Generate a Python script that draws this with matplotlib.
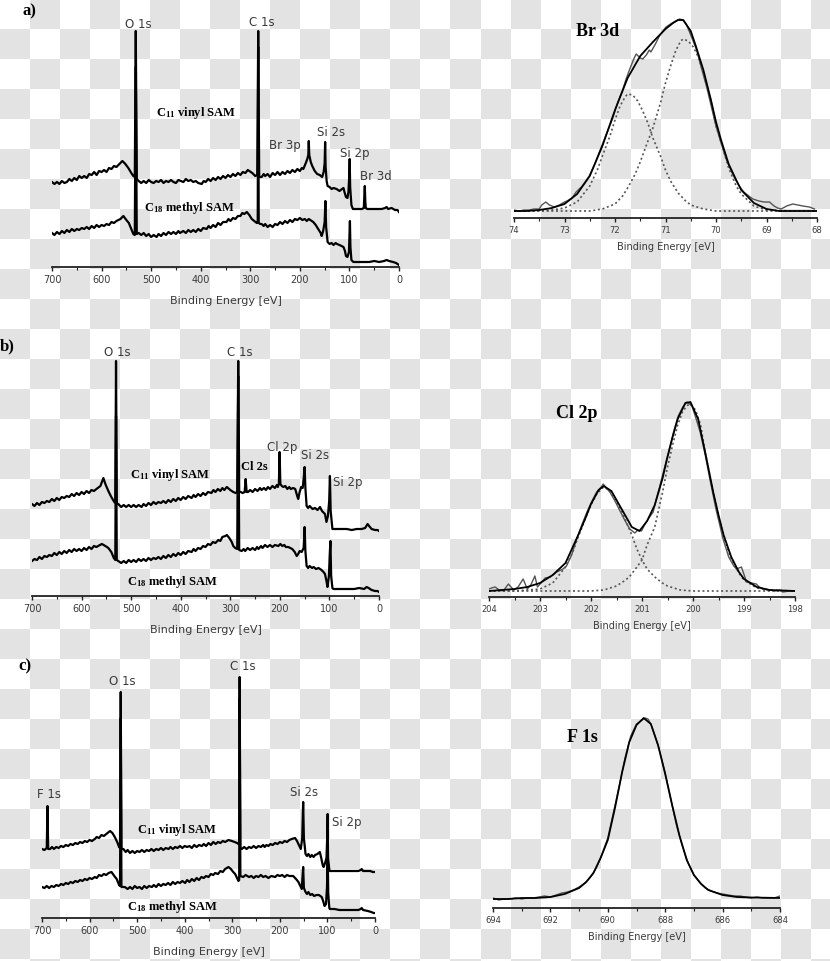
import numpy as np
import matplotlib.pyplot as plt
from matplotlib.colors import ListedColormap
from matplotlib.ticker import MultipleLocator

W, H = 830, 962

plt.rcParams['mathtext.fontset'] = 'custom'
plt.rcParams['mathtext.rm'] = 'Liberation Serif:bold'
plt.rcParams['mathtext.it'] = 'Liberation Serif:bold'
plt.rcParams['mathtext.bf'] = 'Liberation Serif:bold'

# ---- survey spectra, (binding energy eV, intensity a.u.) ----
a_vinyl = [(700, 85), (695, 83), (690, 85), (685, 83), (680, 86), (675, 84), (670, 85), (665, 88), (660, 86),
           (655, 89), (650, 87), (645, 91), (640, 89), (635, 91), (630, 89), (625, 93), (620, 92), (615, 95),
           (610, 92), (605, 96), (600, 95), (595, 97), (590, 95), (585, 99), (580, 98), (575, 101), (570, 100),
           (562, 104), (558, 106), (552, 103), (546, 99),
           (540, 94), (536, 91), (533, 90), (531, 236), (529, 88), (525, 86), (520, 84), (515, 86), (510, 84),
           (505, 87), (500, 85), (495, 84), (490, 86), (485, 85), (480, 87), (475, 84), (470, 86), (465, 85),
           (460, 87), (455, 85), (450, 84), (445, 87), (440, 86), (435, 85), (430, 88), (425, 86), (420, 87),
           (415, 85), (410, 86), (405, 84), (398, 83), (394, 86), (390, 85), (385, 88), (380, 86), (375, 89),
           (370, 87), (365, 90), (360, 88), (355, 91), (350, 89), (345, 92), (340, 90), (335, 93), (330, 91),
           (325, 94), (320, 92), (315, 95), (310, 94), (305, 97), (302, 96), (296, 94), (290, 91), (286, 92),
           (284, 236), (282, 90), (277, 90), (273, 93), (270, 91), (265, 93), (260, 90), (255, 94), (250, 92),
           (245, 95), (240, 92), (235, 95), (230, 93), (225, 96), (220, 94), (215, 97), (210, 95), (205, 98),
           (200, 96), (196, 99), (193, 98), (188, 104), (185, 108), (183, 112), (182, 126), (181, 112),
           (178, 105), (175, 101), (170, 96), (165, 93), (160, 92), (155, 90), (152, 95), (150, 104), (149, 125),
           (148, 100), (146, 86), (144, 81), (140, 80), (136, 78), (132, 79), (126, 78), (120, 76), (115, 78),
           (112, 79), (110, 75), (107, 70), (104, 69), (102, 75), (100.5, 90), (99.5, 108), (98.5, 80), (96, 62),
           (93, 58), (85, 58), (75, 58), (71, 59), (70, 70), (69, 81), (68, 66), (67, 59), (64, 58), (55, 58),
           (45, 58), (35, 58), (28, 59), (25, 60), (22, 58), (15, 59), (8, 57), (3, 57), (0, 55)]
a_methyl = [(700, 34), (695, 32), (690, 35), (685, 33), (680, 36), (675, 34), (670, 37), (665, 35), (660, 38),
            (655, 36), (650, 38), (645, 37), (640, 39), (635, 38), (630, 40), (625, 38), (620, 41), (615, 39),
            (610, 42), (605, 40), (600, 42), (595, 41), (590, 43), (585, 42), (580, 45), (575, 44), (570, 46),
            (562, 48), (556, 51), (550, 47), (545, 44),
            (540, 38), (536, 33), (533, 32), (531, 200), (529, 33), (525, 34), (520, 32), (515, 34), (510, 31),
            (505, 33), (500, 30), (495, 32), (489, 30), (485, 33), (480, 31), (475, 34), (470, 32), (465, 35),
            (460, 33), (455, 35), (450, 33), (445, 36), (442, 34), (435, 36), (430, 34), (425, 37), (420, 35),
            (415, 37), (410, 35), (405, 38), (400, 36), (395, 39), (388, 38), (384, 41), (380, 39), (375, 42),
            (370, 40), (365, 44), (360, 42), (355, 45), (348, 45), (344, 48), (340, 46), (335, 49), (330, 48),
            (325, 51), (320, 51), (316, 54), (312, 53), (307, 55), (302, 52), (297, 48), (292, 46), (287, 44),
            (285, 45), (284, 220), (283, 44), (280, 43), (277, 43), (273, 41), (270, 43), (265, 40), (260, 42),
            (255, 40), (250, 43), (245, 42), (240, 45), (235, 43), (230, 46), (225, 44), (220, 47), (215, 45),
            (210, 48), (205, 47), (200, 49), (195, 47), (190, 48), (186, 46), (182, 48), (176, 46), (173, 45),
            (168, 42), (163, 38), (158, 34), (156, 31), (153, 36), (150, 45), (148.5, 66), (147, 40), (144, 25),
            (140, 23), (136, 24), (132, 22), (128, 24), (125, 23), (120, 22), (116, 21), (112, 20), (109, 16),
            (107, 11), (104, 10), (101, 15), (100, 30), (99, 46), (98, 20), (96, 7), (92, 5), (80, 5), (70, 5),
            (60, 5), (50, 6), (40, 5), (30, 6), (25, 7), (20, 6), (12, 5), (6, 4), (3, 3), (0, 2)]

b_vinyl = [(700, 92), (695, 90), (690, 93), (685, 91), (680, 94), (675, 93), (670, 95), (665, 94), (660, 97),
           (655, 95), (650, 98), (645, 96), (640, 99), (635, 98), (630, 100), (625, 99), (620, 102), (615, 100),
           (610, 103), (605, 101), (600, 104), (595, 102), (590, 105), (585, 103), (580, 106), (575, 105),
           (570, 107), (562, 110), (556, 118), (552, 112), (546, 105), (540, 99), (534, 94), (532, 93),
           (530.5, 235), (529, 92), (526, 92), (520, 89), (515, 91), (510, 89), (505, 91), (500, 89), (495, 91),
           (490, 89), (485, 91), (479, 89), (475, 92), (470, 90), (465, 93), (460, 91), (455, 94), (450, 92),
           (445, 94), (440, 93), (435, 95), (430, 93), (425, 96), (420, 94), (415, 97), (410, 95), (405, 98),
           (400, 96), (395, 99), (390, 97), (385, 100), (378, 98), (374, 101), (370, 99), (365, 102), (360, 100),
           (355, 103), (350, 101), (345, 104), (338, 103), (334, 106), (330, 104), (325, 107), (320, 105),
           (316, 108), (312, 106), (307, 109), (300, 106), (294, 104), (289, 103), (286, 104), (284, 235),
           (282, 104), (279, 104), (275, 103), (271, 104), (269, 117), (267, 104), (264, 104), (260, 106),
           (255, 104), (250, 107), (245, 105), (240, 108), (237, 106), (232, 108), (228, 106), (224, 109),
           (220, 107), (215, 110), (210, 108), (206, 111), (204, 109), (202, 112), (200.5, 144), (199, 112),
           (196, 110), (193, 109), (189, 110), (185, 107), (181, 109), (178, 107), (173, 108), (169, 107),
           (165, 100), (163, 97), (160, 104), (157, 109), (154, 108), (151.5, 120), (150, 129), (148.5, 108),
           (146, 90), (143, 88), (140, 90), (134, 87), (129, 88), (124, 86), (119, 89), (115, 85), (111, 83),
           (109, 82), (106, 74), (103, 80), (100.5, 95), (99, 120), (97.5, 85), (94, 67), (85, 67), (75, 67),
           (65, 67), (55, 66), (45, 67), (35, 67), (28, 68), (23, 72), (20, 70), (15, 67), (8, 66), (3, 66),
           (0, 65)]
b_methyl = [(700, 35), (695, 37), (690, 36), (685, 39), (680, 37), (675, 40), (670, 39), (665, 41), (660, 40),
            (655, 43), (650, 41), (645, 44), (640, 42), (635, 45), (630, 43), (625, 46), (620, 44), (615, 47),
            (610, 45), (605, 47), (600, 45), (595, 48), (590, 46), (585, 49), (580, 47), (575, 50), (570, 49),
            (563, 51), (559, 52), (552, 50), (546, 48), (540, 44), (535, 38), (532, 36), (530.5, 180), (529, 36),
            (526, 35), (520, 33), (515, 35), (510, 33), (505, 36), (500, 34), (495, 36), (490, 34), (485, 37),
            (480, 35), (475, 37), (470, 35), (465, 38), (460, 36), (455, 38), (450, 37), (445, 39), (440, 37),
            (435, 40), (430, 38), (425, 41), (420, 39), (415, 42), (410, 40), (405, 43), (400, 41), (395, 44),
            (390, 42), (385, 45), (378, 44), (374, 47), (370, 45), (365, 48), (360, 47), (355, 50), (350, 49),
            (345, 52), (340, 51), (335, 54), (330, 53), (324, 56), (320, 55), (316, 59), (310, 60), (307, 61),
            (302, 58), (297, 54), (294, 50), (290, 48), (286, 47), (284, 220), (282, 46), (277, 45), (273, 47),
            (270, 45), (265, 48), (260, 46), (255, 48), (250, 46), (246, 49), (243, 47), (238, 50), (235, 48),
            (230, 51), (225, 49), (220, 51), (215, 49), (210, 51), (203, 50), (199, 52), (195, 50), (191, 51),
            (188, 49), (183, 49), (175, 47), (170, 44), (166, 40), (163, 42), (160, 45), (156, 44), (152, 48),
            (150, 69), (148.5, 45), (146, 30), (143, 28), (140, 30), (135, 28), (132, 29), (127, 27), (122, 28),
            (116, 26), (112, 24), (109, 22), (106, 15), (104, 9), (101, 20), (99.5, 40), (98, 55), (96.5, 20),
            (94, 8), (92, 7), (80, 7), (70, 7), (60, 7), (50, 7), (40, 8), (30, 7), (25, 9), (21, 8), (15, 6),
            (8, 5), (3, 5), (0, 4)]

c_vinyl = [(700, 69), (695, 68), (690, 70), (688.5, 112), (687, 69), (683, 69), (679, 71), (675, 69), (670, 71),
           (665, 70), (660, 72), (655, 71), (650, 73), (645, 72), (640, 74), (635, 73), (630, 75), (625, 74),
           (620, 76), (615, 75), (610, 77), (605, 76), (600, 78), (595, 77), (589, 79), (585, 81), (580, 80),
           (575, 83), (570, 82), (562, 85), (557, 87), (552, 85), (547, 81), (542, 76), (538, 71), (536, 70),
           (534.5, 226), (533, 69), (529, 69), (524, 66), (520, 68), (515, 65), (510, 67), (505, 65), (500, 67),
           (495, 66), (490, 68), (485, 66), (480, 68), (475, 67), (470, 69), (465, 67), (460, 69), (455, 68),
           (450, 70), (445, 68), (440, 70), (434, 69), (430, 71), (425, 69), (420, 71), (415, 70), (410, 72),
           (405, 70), (400, 72), (395, 71), (390, 72), (385, 70), (380, 73), (375, 71), (370, 73), (364, 72),
           (360, 74), (355, 72), (350, 75), (345, 73), (340, 76), (335, 74), (330, 76), (325, 75), (320, 77),
           (315, 76), (308, 78), (301, 77), (295, 76), (290, 75), (287, 74), (285.5, 74), (284.5, 241),
           (283, 70), (280, 69), (275, 71), (270, 69), (265, 71), (260, 70), (255, 72), (250, 70), (245, 72),
           (240, 71), (235, 73), (232, 71), (228, 73), (224, 72), (220, 74), (215, 73), (210, 75), (205, 74),
           (200, 76), (195, 75), (190, 77), (185, 76), (180, 78), (175, 79), (168, 80), (164, 77), (161, 74),
           (158, 71), (156, 69), (153, 80), (151, 116), (149.5, 80), (146, 64), (143, 62), (140, 64), (136, 61),
           (133, 63), (129, 61), (126, 63), (121, 64), (116, 66), (113, 60), (110, 53), (108, 51), (105, 55),
           (102, 60), (100.5, 80), (99.5, 104), (98.5, 60), (96, 48), (95, 47), (85, 47), (75, 47), (65, 47),
           (55, 47), (45, 47), (35, 47), (30, 48), (28, 49), (25, 47), (18, 47), (10, 47), (5, 46), (0, 46)]
c_methyl = [(700, 31), (695, 30), (690, 32), (685, 30), (680, 32), (675, 31), (670, 33), (665, 32), (660, 34),
            (655, 33), (650, 35), (645, 34), (640, 36), (635, 35), (630, 37), (625, 36), (620, 38), (615, 37),
            (610, 39), (605, 38), (600, 40), (595, 39), (589, 41), (585, 40), (580, 43), (575, 42), (570, 44),
            (565, 43), (560, 45), (554, 46), (548, 42), (543, 39), (538, 33), (536, 32), (534.5, 200), (533, 31),
            (526, 31), (520, 29), (515, 31), (510, 29), (505, 32), (500, 30), (495, 31), (490, 29), (485, 32),
            (480, 30), (475, 32), (469, 31), (465, 33), (460, 31), (455, 34), (450, 32), (445, 34), (440, 33),
            (435, 35), (430, 33), (425, 36), (420, 34), (415, 36), (410, 35), (405, 37), (399, 35), (395, 38),
            (390, 36), (385, 39), (380, 37), (375, 40), (370, 38), (365, 41), (360, 40), (355, 42), (350, 41),
            (345, 44), (340, 43), (336, 45), (330, 44), (325, 47), (320, 46), (315, 49), (308, 51), (303, 49),
            (298, 46), (294, 44), (290, 40), (287, 37), (285.5, 38), (284.5, 220), (283, 42), (277, 41),
            (272, 43), (265, 41), (260, 42), (255, 40), (250, 42), (245, 41), (240, 43), (235, 41), (230, 42),
            (224, 40), (218, 42), (210, 41), (205, 43), (200, 42), (195, 43), (190, 41), (185, 43), (180, 42),
            (172, 42), (166, 39), (161, 36), (157, 32), (154, 29), (152.5, 40), (151, 51), (149.5, 30),
            (146, 26), (143, 24), (140, 26), (136, 23), (132, 24), (128, 22), (123, 23), (118, 23), (112, 21),
            (109, 17), (106, 12), (103, 14), (101, 30), (99.5, 59), (98.5, 25), (96, 10), (95, 9), (85, 9),
            (75, 8), (65, 8), (55, 8), (45, 8), (35, 8), (30, 9), (28, 10), (25, 8), (15, 7), (8, 6), (3, 5),
            (0, 5)]

# ---- high resolution spectra ----
br_raw = [(74.0, 8), (73.9, 7), (73.8, 8), (73.7, 8), (73.6, 9), (73.5, 9), (73.45, 13), (73.37, 16),
          (73.3, 13), (73.2, 11), (73.1, 13), (73.0, 16), (72.95, 17), (72.85, 20), (72.77, 26), (72.65, 32),
          (72.51, 42), (72.4, 54), (72.31, 66), (72.2, 80), (72.05, 99), (71.95, 115), (71.85, 128),
          (71.78, 139), (71.7, 150), (71.62, 160), (71.58, 164), (71.5, 160), (71.45, 159), (71.38, 163),
          (71.32, 168), (71.29, 166), (71.2, 174), (71.12, 182), (71.05, 187), (70.99, 191), (70.9, 194),
          (70.8, 197), (70.72, 199), (70.65, 198), (70.59, 194), (70.5, 183), (70.39, 169), (70.3, 152),
          (70.19, 132), (70.1, 113), (70.0, 92), (69.9, 75), (69.8, 59), (69.7, 47), (69.6, 37), (69.54, 32),
          (69.45, 26), (69.35, 22), (69.27, 19), (69.15, 17), (69.05, 16), (68.94, 16), (68.85, 12),
          (68.78, 10), (68.71, 9), (68.6, 12), (68.48, 14), (68.38, 13), (68.28, 12), (68.15, 11), (68.05, 9)]
br_fit = [(74.0, 7), (73.75, 7), (73.5, 8), (73.25, 10), (73.0, 14), (72.75, 24), (72.5, 42), (72.25, 72),
          (72.0, 108), (71.75, 140), (71.5, 162), (71.25, 176), (71.0, 189), (70.85, 195), (70.75, 198),
          (70.65, 198), (70.5, 187), (70.4, 172), (70.25, 148), (70.1, 118), (70.0, 96), (69.9, 78),
          (69.75, 54), (69.6, 38), (69.5, 28), (69.25, 15), (69.0, 9), (68.75, 7), (68.5, 7), (68.0, 7)]
br_comp1 = [(74.0, 7), (73.5, 7), (73.25, 8), (73.0, 10), (72.75, 16), (72.5, 32), (72.35, 48), (72.25, 62),
            (72.1, 82), (72.0, 98), (71.9, 112), (71.8, 121), (71.75, 124), (71.65, 123), (71.55, 117),
            (71.45, 107), (71.35, 95), (71.25, 80), (71.1, 62), (71.0, 48), (70.9, 37), (70.75, 25),
            (70.6, 17), (70.5, 13), (70.25, 9), (70.0, 7), (69.5, 7), (69.0, 7), (68.0, 7)]
br_comp2 = [(74.0, 7), (73.0, 7), (72.5, 7), (72.25, 9), (72.0, 14), (71.85, 22), (71.75, 30), (71.6, 44),
            (71.5, 56), (71.4, 70), (71.25, 90), (71.1, 115), (71.0, 135), (70.9, 152), (70.8, 167), (70.7, 177),
            (70.65, 179), (70.55, 177), (70.45, 171), (70.35, 161), (70.25, 145), (70.1, 117), (70.0, 92),
            (69.9, 76), (69.75, 50), (69.6, 32), (69.5, 24), (69.25, 12), (69.0, 8), (68.5, 7), (68.0, 7)]

cl_raw = [(204.0, 8), (203.95, 9), (203.88, 10), (203.8, 7), (203.72, 6), (203.62, 13), (203.55, 9),
          (203.52, 7), (203.43, 10), (203.33, 18), (203.25, 8), (203.18, 12), (203.1, 21), (203.05, 10),
          (202.98, 14), (202.9, 19), (202.8, 20), (202.67, 25), (202.55, 28), (202.48, 31), (202.38, 42),
          (202.28, 58), (202.18, 72), (202.08, 85), (201.98, 96), (201.89, 105), (201.8, 110), (201.76, 113),
          (201.7, 109), (201.63, 105), (201.53, 96), (201.43, 86), (201.33, 76), (201.24, 68), (201.14, 64),
          (201.08, 67), (201.01, 66), (200.95, 72), (200.88, 78), (200.78, 85), (200.72, 98), (200.65, 111),
          (200.55, 131), (200.45, 151), (200.37, 167), (200.29, 181), (200.2, 190), (200.12, 195),
          (200.02, 191), (199.95, 180), (199.86, 165), (199.76, 142), (199.67, 118), (199.55, 88),
          (199.41, 58), (199.3, 40), (199.2, 31), (199.15, 28), (199.05, 30), (198.95, 15), (198.85, 14),
          (198.76, 13), (198.7, 10), (198.63, 8), (198.5, 7), (198.4, 6), (198.3, 7), (198.24, 5), (198.1, 6),
          (198.01, 6)]
cl_fit = [(204.0, 6), (203.5, 8), (203.25, 10), (203.0, 14), (202.75, 22), (202.5, 34), (202.25, 62),
          (202.1, 80), (202.0, 93), (201.85, 107), (201.75, 111), (201.6, 106), (201.4, 88), (201.2, 70),
          (201.05, 66), (200.9, 76), (200.75, 92), (200.6, 118), (200.5, 140), (200.4, 160), (200.3, 178),
          (200.15, 194), (200.05, 195), (199.9, 178), (199.75, 142), (199.6, 104), (199.5, 82), (199.4, 62),
          (199.25, 40), (199.1, 25), (199.0, 18), (198.75, 10), (198.5, 7), (198.0, 6)]
cl_comp1 = [(204.0, 6), (203.5, 6), (203.0, 8), (202.75, 14), (202.5, 30), (202.35, 46), (202.25, 60),
            (202.1, 80), (202.0, 92), (201.9, 102), (201.8, 108), (201.75, 110), (201.65, 107), (201.55, 100),
            (201.4, 86), (201.3, 74), (201.2, 62), (201.1, 48), (201.0, 37), (200.9, 28), (200.75, 20),
            (200.6, 14), (200.5, 11), (200.25, 7), (200.0, 6), (199.0, 6), (198.0, 6)]
cl_comp2 = [(204.0, 6), (202.5, 6), (202.0, 6), (201.75, 7), (201.5, 11), (201.35, 16), (201.25, 20),
            (201.1, 30), (201.0, 37), (200.9, 52), (200.75, 70), (200.6, 104), (200.5, 130), (200.4, 152),
            (200.3, 172), (200.2, 186), (200.1, 192), (200.05, 193), (199.95, 187), (199.85, 172),
            (199.75, 141), (199.6, 104), (199.5, 81), (199.4, 60), (199.25, 38), (199.1, 24), (199.0, 17),
            (198.75, 9), (198.5, 7), (198.0, 6)]

f_raw = [(694.0, 10), (693.8, 8), (693.6, 9), (693.4, 9), (693.2, 10), (693.0, 9), (692.8, 10), (692.6, 10),
         (692.4, 11), (692.2, 12), (692.0, 11), (691.8, 13), (691.6, 15), (691.4, 16), (691.2, 18), (691.0, 21),
         (690.8, 25), (690.6, 31), (690.4, 40), (690.2, 54), (690.0, 70), (689.8, 96), (689.6, 122),
         (689.4, 150), (689.2, 172), (689.0, 184), (688.8, 188), (688.7, 190), (688.6, 189), (688.5, 184),
         (688.4, 176), (688.2, 158), (688.0, 135), (687.8, 108), (687.6, 82), (687.4, 62), (687.2, 45),
         (687.0, 33), (686.8, 26), (686.6, 20), (686.4, 17), (686.2, 15), (686.0, 14), (685.8, 13),
         (685.6, 12), (685.4, 12), (685.2, 11), (685.0, 10), (684.8, 11), (684.6, 10), (684.4, 10),
         (684.2, 10), (684.0, 12)]
f_fit = [(694.0, 9), (693.5, 9), (693.0, 10), (692.5, 10), (692.0, 11), (691.5, 14), (691.25, 17), (691.0, 20),
         (690.75, 26), (690.5, 35), (690.25, 50), (690.0, 68), (689.75, 100), (689.5, 136), (689.25, 166),
         (689.0, 183), (688.75, 190), (688.5, 184), (688.25, 163), (688.0, 134), (687.75, 102), (687.5, 72),
         (687.25, 48), (687.0, 33), (686.75, 24), (686.5, 18), (686.0, 13), (685.5, 11), (685.0, 10.5),
         (684.0, 10)]

sub11 = 'C$_{11}$ vinyl SAM'
sub18 = 'C$_{18}$ methyl SAM'
SERIF = 'Liberation Serif'
GREY = '#3a3a3a'


def box(x0, x1, y_top, y_axis):
    return [x0 / W, 1 - y_axis / H, (x1 - x0) / W, (y_axis - y_top) / H]


def pxtext(x, y, s, size=8.5, serif=False, ha='center'):
    if serif:
        fig.text(x / W, 1 - y / H, s, fontsize=size, family=SERIF, weight='bold', ha=ha, va='center')
    else:
        fig.text(x / W, 1 - y / H, s, fontsize=size, color=GREY, ha=ha, va='center')


def style_axes(ax, xlim, ymax, major, minor, tick_size, label_size, labelpad):
    ax.set_facecolor('none')
    ax.set_xlim(*xlim)
    ax.set_ylim(0, ymax)
    for s in ['left', 'right', 'top']:
        ax.spines[s].set_visible(False)
    ax.spines['bottom'].set_linewidth(1.3)
    ax.spines['bottom'].set_color('#222222')
    ax.set_yticks([])
    ax.xaxis.set_major_locator(MultipleLocator(major))
    ax.xaxis.set_minor_locator(MultipleLocator(minor))
    ax.tick_params(axis='x', which='major', direction='out', length=3, width=1, color='#222222',
                   labelsize=tick_size, labelcolor=GREY, pad=2)
    ax.tick_params(axis='x', which='minor', direction='out', length=2, width=0.8, color='#222222')
    ax.set_xlabel('Binding Energy [eV]', fontsize=label_size, color=GREY, labelpad=labelpad)


def draw(ax, pts, **kw):
    e, v = zip(*pts)
    ax.plot(e, v, **kw)


def survey(b, ymax, vinyl, methyl):
    ax = fig.add_axes(b)
    style_axes(ax, (700, 0), ymax, 100, 50, 7, 8, 8)
    draw(ax, vinyl, color='black', lw=1.6)
    draw(ax, methyl, color='black', lw=1.6)
    return ax


def detail(b, xlim, ymax, major, minor, raw, fit, comps):
    ax = fig.add_axes(b)
    style_axes(ax, xlim, ymax, major, minor, 6, 7, 5)
    for c in comps:
        draw(ax, c, color='#555555', lw=1.2, ls=(0, (1.2, 1.6)))
    draw(ax, raw, color='#555555', lw=1.0)
    draw(ax, fit, color='black', lw=1.3)
    return ax


fig = plt.figure(figsize=(W / 100, H / 100), dpi=100)

# transparency checkerboard behind the figure
bg = fig.add_axes([0, 0, 1, 1], zorder=-5)
rows, cols = np.indices((33, 28))
bg.imshow((rows + cols) % 2, cmap=ListedColormap(['white', '#e3e3e3']), extent=(0, 840, 990, 0),
          interpolation='nearest', aspect='auto')
bg.set_xlim(0, W)
bg.set_ylim(H, 0)
bg.axis('off')

# a)
survey(box(52, 399, 20, 268), 248, a_vinyl, a_methyl)
detail(box(514, 817, 10, 219), (74, 68), 209, 1, 0.5, br_raw, br_fit, [br_comp1, br_comp2])
pxtext(22, 11, 'a)', 12, serif=True, ha='left')
pxtext(138, 24, 'O 1s')
pxtext(262, 23, 'C 1s')
pxtext(285, 145, 'Br 3p')
pxtext(331, 133, 'Si 2s')
pxtext(355, 154, 'Si 2p')
pxtext(376, 176, 'Br 3d')
pxtext(196, 113, sub11, 9, serif=True)
pxtext(189, 208, sub18, 9, serif=True)
pxtext(598, 31, 'Br 3d', 13, serif=True)

# b)
survey(box(32, 379, 350, 597), 247, b_vinyl, b_methyl)
detail(box(489, 795, 380, 598), (204, 198), 218, 1, 0.5, cl_raw, cl_fit, [cl_comp1, cl_comp2])
pxtext(0, 346, 'b)', 12, serif=True, ha='left')
pxtext(117, 353, 'O 1s')
pxtext(240, 353, 'C 1s')
pxtext(282, 447, 'Cl 2p')
pxtext(254, 467, 'Cl 2s', 9, serif=True)
pxtext(315, 456, 'Si 2s')
pxtext(348, 483, 'Si 2p')
pxtext(170, 475, sub11, 9, serif=True)
pxtext(172, 582, sub18, 9, serif=True)
pxtext(577, 414, 'Cl 2p', 13, serif=True)

# c)
survey(box(42, 375, 670, 919), 249, c_vinyl, c_methyl)
detail(box(493, 780, 690, 909), (694, 684), 219, 2, 1, f_raw, f_fit, [])
pxtext(18, 666, 'c)', 12, serif=True, ha='left')
pxtext(122, 682, 'O 1s')
pxtext(243, 667, 'C 1s')
pxtext(49, 795, 'F 1s')
pxtext(304, 793, 'Si 2s')
pxtext(347, 823, 'Si 2p')
pxtext(177, 830, sub11, 9, serif=True)
pxtext(172, 907, sub18, 9, serif=True)
pxtext(582, 738, 'F 1s', 13, serif=True)

fig.savefig('out.png', dpi=100)
